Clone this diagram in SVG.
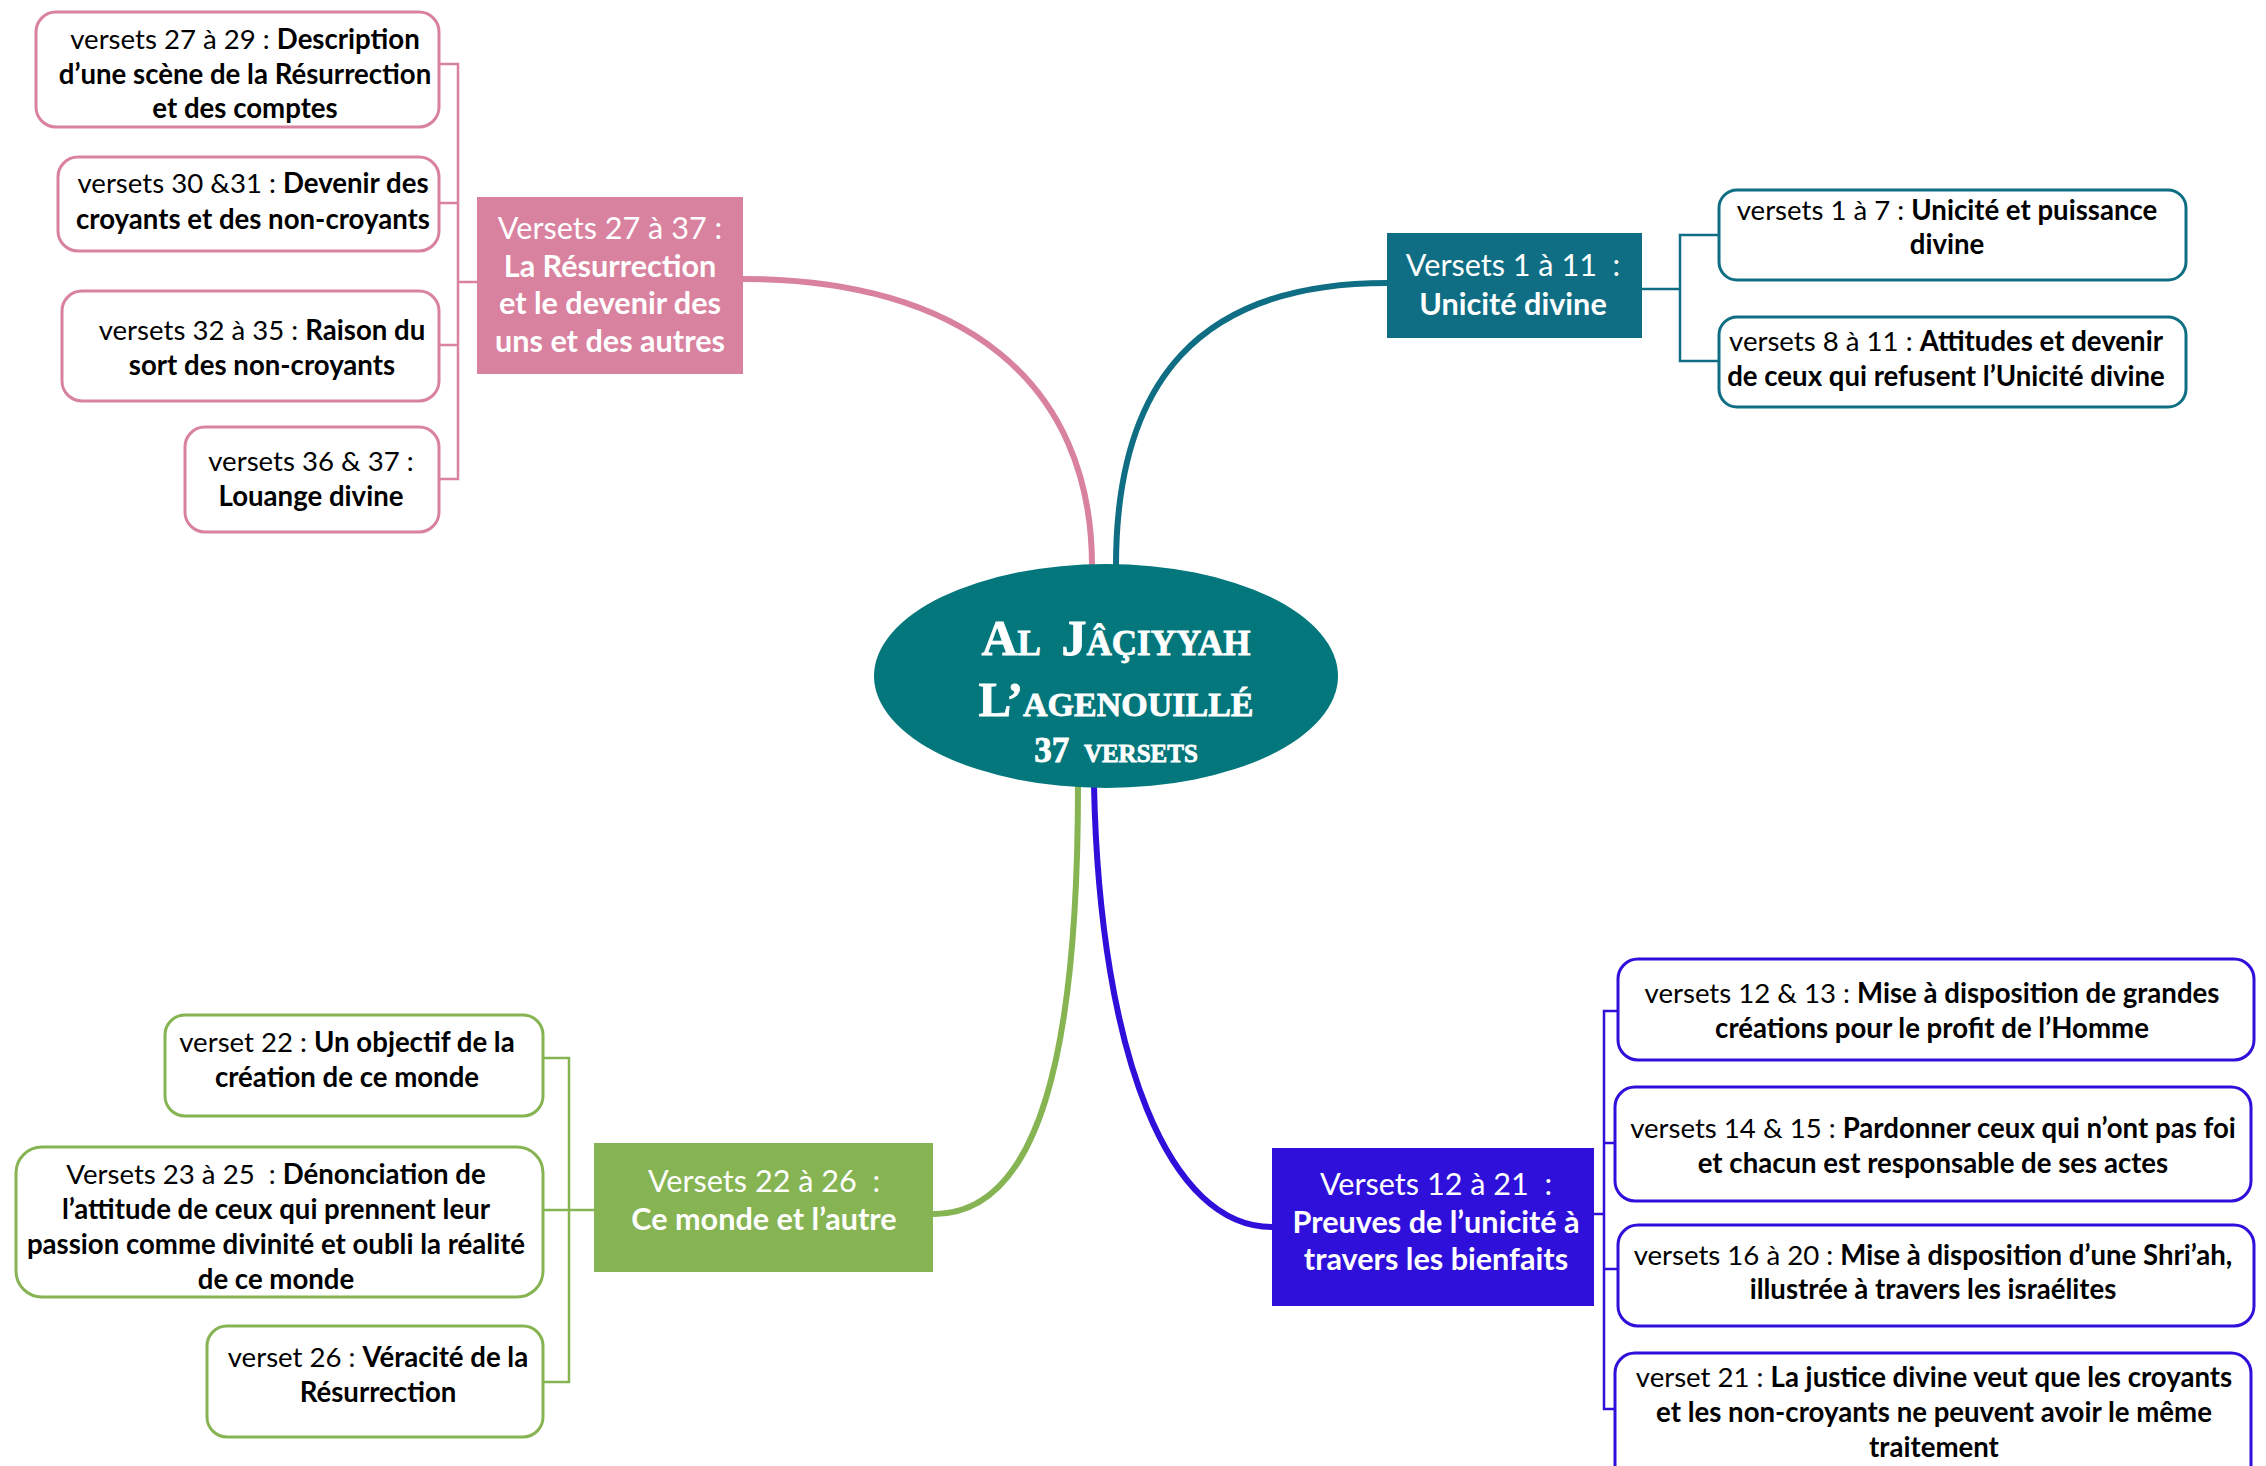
<svg xmlns="http://www.w3.org/2000/svg" width="2266" height="1466" viewBox="0 0 2266 1466">
<style>
  .bg { fill: #ffffff; }
  .sub { fill: #ffffff; stroke-width: 3; }
  .pk { stroke: #D9829F; }
  .tl { stroke: #0F6E84; }
  .gr { stroke: #86B453; }
  .bl { stroke: #2F10DB; }
  .curve { fill: none; stroke-width: 6; stroke-linecap: round; }
  .br { fill: none; stroke-width: 2.5; }
  .t { font-family: Lato, "Open Sans", "Liberation Sans", sans-serif; font-size: 27.6px; fill: #000000; text-anchor: middle; }
  .tt { font-family: Lato, "Open Sans", "Liberation Sans", sans-serif; font-size: 30.6px; fill: #ffffff; text-anchor: middle; }
  .b { font-weight: bold; }
  .title { font-family: "Liberation Serif", "DejaVu Serif", serif; font-weight: bold; font-variant: small-caps; fill: #ffffff; stroke: #ffffff; stroke-width: 0.8; text-anchor: middle; }
</style>
<rect class="bg" x="0" y="0" width="2266" height="1466"/>

<g id="connectors">
  <path class="curve" stroke="#D9829F" d="M743,279 C960,279 1092,380 1092,566"/>
  <path class="curve" stroke="#0F6E84" d="M1116,566 C1116,380 1200,283 1387,283"/>
  <path class="curve" stroke="#86B453" d="M1078,786 C1078,1050 1040,1214 934,1214"/>
  <path class="curve" stroke="#2F10DB" d="M1094,786 C1100,1060 1170,1227 1272,1227"/>
  <path class="br pk" d="M439,64 H458 V479 H439 M439,203 H458 M439,345 H458 M458,282 H477"/>
  <path class="br tl" d="M1718,235 H1680 V361 H1718 M1642,289 H1680"/>
  <path class="br gr" d="M543,1058 H569 V1382 H543 M543,1210 H594"/>
  <path class="br bl" d="M1617,1011 H1604 V1409 H1617 M1604,1143 H1617 M1604,1269 H1617 M1594,1214 H1604"/>
</g>

<g id="center">
  <ellipse cx="1106" cy="676" rx="232" ry="112" fill="#03777B"/>
  <text class="title" x="1116" y="655" font-size="50" word-spacing="8">Al Jâçiyyah</text>
  <text class="title" x="1116" y="716" font-size="49">L’agenouillé</text>
  <text class="title" x="1116" y="762" font-size="35" word-spacing="6">37 versets</text>
</g>

<g id="topic-pink">
  <rect x="477" y="197" width="266" height="177" fill="#D9829F"/>
  <text class="tt" x="610" y="239">Versets 27 à 37 :</text>
  <text class="tt b" x="610" y="277">La Résurrection</text>
  <text class="tt b" x="610" y="314">et le devenir des</text>
  <text class="tt b" x="610" y="352">uns et des autres</text>
</g>
<g id="pink-1">
  <rect class="sub pk" x="36" y="12" width="403" height="115" rx="20"/>
  <text class="t" x="245" y="49">versets 27 à 29 : <tspan class="b">Description</tspan></text>
  <text class="t b" x="245" y="84">d’une scène de la Résurrection</text>
  <text class="t b" x="245" y="118">et des comptes</text>
</g>
<g id="pink-2">
  <rect class="sub pk" x="58" y="157" width="381" height="94" rx="20"/>
  <text class="t" x="253" y="193">versets 30 &amp;31 : <tspan class="b">Devenir des</tspan></text>
  <text class="t b" x="253" y="229">croyants et des non-croyants</text>
</g>
<g id="pink-3">
  <rect class="sub pk" x="62" y="291" width="377" height="110" rx="20"/>
  <text class="t" x="262" y="340">versets 32 à 35 : <tspan class="b">Raison du</tspan></text>
  <text class="t b" x="262" y="375">sort des non-croyants</text>
</g>
<g id="pink-4">
  <rect class="sub pk" x="185" y="427" width="254" height="105" rx="20"/>
  <text class="t" x="311" y="471">versets 36 &amp; 37 :</text>
  <text class="t b" x="311" y="506">Louange divine</text>
</g>

<g id="topic-teal">
  <rect x="1387" y="233" width="255" height="105" fill="#0F6E84"/>
  <text class="tt" x="1513" y="276" xml:space="preserve">Versets 1 à 11  :</text>
  <text class="tt b" x="1513" y="315">Unicité divine</text>
</g>
<g id="teal-1">
  <rect class="sub tl" x="1719" y="190" width="467" height="90" rx="18"/>
  <text class="t" x="1947" y="220">versets 1 à 7 : <tspan class="b">Unicité et puissance</tspan></text>
  <text class="t b" x="1947" y="254">divine</text>
</g>
<g id="teal-2">
  <rect class="sub tl" x="1719" y="317" width="467" height="90" rx="18"/>
  <text class="t" x="1946" y="351">versets 8 à 11 : <tspan class="b">Attitudes et devenir</tspan></text>
  <text class="t b" x="1946" y="386">de ceux qui refusent l’Unicité divine</text>
</g>

<g id="topic-green">
  <rect x="594" y="1143" width="339" height="129" fill="#86B453"/>
  <text class="tt" x="764" y="1192" xml:space="preserve">Versets 22 à 26  :</text>
  <text class="tt b" x="764" y="1230">Ce monde et l’autre</text>
</g>
<g id="green-1">
  <rect class="sub gr" x="165" y="1015" width="378" height="101" rx="20"/>
  <text class="t" x="347" y="1052">verset 22 : <tspan class="b">Un objectif de la</tspan></text>
  <text class="t b" x="347" y="1087">création de ce monde</text>
</g>
<g id="green-2">
  <rect class="sub gr" x="16" y="1147" width="527" height="150" rx="26"/>
  <text class="t" x="276" y="1184" xml:space="preserve">Versets 23 à 25  : <tspan class="b">Dénonciation de</tspan></text>
  <text class="t b" x="276" y="1219">l’attitude de ceux qui prennent leur</text>
  <text class="t b" x="276" y="1254">passion comme divinité et oubli la réalité</text>
  <text class="t b" x="276" y="1289">de ce monde</text>
</g>
<g id="green-3">
  <rect class="sub gr" x="207" y="1326" width="336" height="111" rx="20"/>
  <text class="t" x="378" y="1367">verset 26 : <tspan class="b">Véracité de la</tspan></text>
  <text class="t b" x="378" y="1402">Résurrection</text>
</g>

<g id="topic-blue">
  <rect x="1272" y="1148" width="322" height="158" fill="#2F10DB"/>
  <text class="tt" x="1436" y="1195" xml:space="preserve">Versets 12 à 21  :</text>
  <text class="tt b" x="1436" y="1233">Preuves de l’unicité à</text>
  <text class="tt b" x="1436" y="1270">travers les bienfaits</text>
</g>
<g id="blue-1">
  <rect class="sub bl" x="1618" y="959" width="636" height="101" rx="20"/>
  <text class="t" x="1932" y="1003">versets 12 &amp; 13 : <tspan class="b">Mise à disposition de grandes</tspan></text>
  <text class="t b" x="1932" y="1038">créations pour le profit de l’Homme</text>
</g>
<g id="blue-2">
  <rect class="sub bl" x="1615" y="1087" width="636" height="114" rx="20"/>
  <text class="t" x="1933" y="1138">versets 14 &amp; 15 : <tspan class="b">Pardonner ceux qui n’ont pas foi</tspan></text>
  <text class="t b" x="1933" y="1173">et chacun est responsable de ses actes</text>
</g>
<g id="blue-3">
  <rect class="sub bl" x="1618" y="1225" width="636" height="101" rx="20"/>
  <text class="t" x="1933" y="1265">versets 16 à 20 : <tspan class="b">Mise à disposition d’une Shri’ah,</tspan></text>
  <text class="t b" x="1933" y="1299">illustrée à travers les israélites</text>
</g>
<g id="blue-4">
  <rect class="sub bl" x="1615" y="1353" width="636" height="140" rx="20"/>
  <text class="t" x="1934" y="1387">verset 21 : <tspan class="b">La justice divine veut que les croyants</tspan></text>
  <text class="t b" x="1934" y="1422">et les non-croyants ne peuvent avoir le même</text>
  <text class="t b" x="1934" y="1457">traitement</text>
</g>
</svg>
